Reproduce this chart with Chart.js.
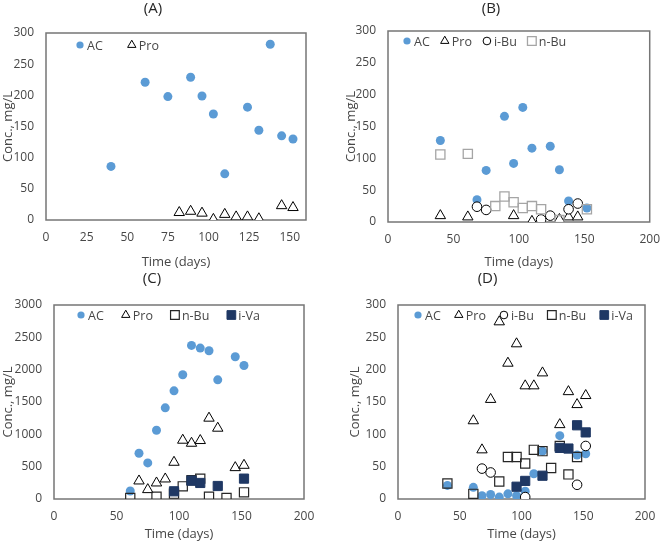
<!DOCTYPE html>
<html>
<head>
<meta charset="utf-8">
<script src="https://cdn.jsdelivr.net/npm/chart.js@4.4.1/dist/chart.umd.min.js"></script>
<style>
  body { margin: 0; background: #fff; overflow: hidden; }
  .panel { position: absolute; }
</style>
</head>
<body>
<div class="panel" style="left:0;top:0;width:330px;height:270px"><canvas id="chartA"></canvas></div>
<div class="panel" style="left:330px;top:0;width:340px;height:270px"><canvas id="chartB"></canvas></div>
<div class="panel" style="left:0;top:270px;width:330px;height:272px"><canvas id="chartC"></canvas></div>
<div class="panel" style="left:330px;top:270px;width:340px;height:272px"><canvas id="chartD"></canvas></div>
<script>
// ===== Data (days, mg/L) =====
// (A)
const aAcDays = [40, 61, 75, 89, 96, 103, 110, 124, 131, 138, 145, 152];
const aAcConc = [86, 221, 198, 229, 199, 170, 74, 181, 144, 282, 135, 130];
const aProDays = [82, 89, 96, 103, 110, 117, 124, 131, 145, 152];
const aProConc = [12, 14, 11, 1, 9, 5, 5, 2, 23, 20];

// (B)
const bAcDays = [40, 68, 75, 89, 96, 103, 110, 124, 131, 138, 152];
const bAcConc = [128, 35, 81, 166, 92, 180, 116, 119, 82, 33, 22];
const bProDays = [40, 61, 96, 110, 131, 138, 145];
const bProConc = [10, 8, 10, 1, 4, 8, 8];
const bIbuDays = [68, 75, 117, 124, 138, 145];
const bIbuConc = [24, 19, 4, 10, 20, 29];
const bNbuDays = [40, 61, 82, 89, 96, 103, 110, 117, 131, 152];
const bNbuConc = [106, 107, 25, 40, 31, 22, 25, 20, 3, 20];

// (C)
const cAcDays = [61, 68, 75, 82, 89, 96, 103, 110, 117, 124, 131, 145, 152];
const cAcConc = [124, 707, 558, 1064, 1410, 1673, 1921, 2375, 2334, 2293, 1843, 2200, 2065];
const cProDays = [68, 75, 82, 89, 96, 103, 110, 117, 124, 131, 145, 152];
const cProConc = [279, 145, 248, 310, 568, 909, 862, 904, 1250, 1095, 485, 521];
const cNbuDays = [61, 82, 96, 103, 110, 117, 124, 138, 152];
const cNbuConc = [15, 36, 83, 196, 289, 315, 36, 15, 103];
const cIvaDays = [96, 110, 117, 131, 152];
const cIvaConc = [119, 284, 248, 201, 315];

// (D)
const dAcDays = [40, 61, 68, 75, 82, 89, 96, 103, 110, 117, 131, 145, 152];
const dAcConc = [21, 18, 5, 7, 3, 8, 5, 12, 39, 74, 98, 68, 70];
const dProDays = [61, 68, 75, 82, 89, 96, 103, 110, 117, 131, 138, 145, 152];
const dProConc = [121, 76, 154, 274, 210, 240, 175, 175, 195, 115, 166, 146, 160];
const dIbuDays = [68, 75, 103, 145, 152];
const dIbuConc = [47, 41, 3, 22, 82];
const dNbuDays = [40, 61, 82, 89, 96, 103, 110, 117, 124, 131, 138, 145];
const dNbuConc = [24, 8, 27, 65, 65, 55, 76, 74, 48, 82, 38, 65];
const dIvaDays = [96, 103, 117, 131, 138, 145, 152];
const dIvaConc = [19, 28, 36, 79, 78, 114, 103];

// ===== Marker styles =====
const FONT = '"Open Sans", sans-serif';
const TXT = '#474747';

const acStyle = { pointStyle: 'circle', pointRadius: 4.5, pointBackgroundColor: '#5B9BD5', pointBorderColor: '#5B9BD5', pointBorderWidth: 0 };
const proStyle = { pointStyle: 'triangle', pointRadius: 6, pointBackgroundColor: '#fff', pointBorderColor: '#000', pointBorderWidth: 1 };
const ibuStyle = { pointStyle: 'circle', pointRadius: 4.8, pointBackgroundColor: '#fff', pointBorderColor: '#000', pointBorderWidth: 1 };
const nbuGrayStyle = { pointStyle: 'rect', pointRadius: 6.5, pointBackgroundColor: 'rgba(255,255,255,0)', pointBorderColor: '#A5A5A5', pointBorderWidth: 1.3 };
const nbuStyle = { pointStyle: 'rect', pointRadius: 6.5, pointBackgroundColor: 'rgba(255,255,255,0)', pointBorderColor: '#262626', pointBorderWidth: 1.2 };
const ivaStyle = { pointStyle: 'rect', pointRadius: 6.5, pointBackgroundColor: '#1F3864', pointBorderColor: '#1F3864', pointBorderWidth: 1 };

function series(label, days, conc, style) {
  return { label, data: days.map((d, i) => ({ x: d, y: conc[i] })), showLine: false, ...style };
}

// ===== Plugins =====
// plot-area frame like the Excel chart
const frame = {
  id: 'frame',
  beforeDatasetsDraw(chart) {
    const { ctx, chartArea: a } = chart;
    ctx.save();
    ctx.strokeStyle = '#767676';
    ctx.lineWidth = 1.5;
    ctx.strokeRect(a.left, a.top, a.right - a.left, a.bottom - a.top);
    ctx.restore();
  }
};

function marker(ctx, style, r, x, y) {
  ctx.beginPath();
  if (style === 'circle') {
    ctx.arc(x, y, r, 0, Math.PI * 2);
  } else if (style === 'triangle') {
    ctx.moveTo(x, y - r);
    ctx.lineTo(x + r * Math.sin(Math.PI * 2 / 3), y - r * Math.cos(Math.PI * 2 / 3));
    ctx.lineTo(x - r * Math.sin(Math.PI * 2 / 3), y - r * Math.cos(Math.PI * 2 / 3));
  } else {
    const s = r * Math.SQRT1_2;
    ctx.rect(x - s, y - s, 2 * s, 2 * s);
  }
  ctx.closePath();
}

// legend drawn inside the plot area, top row
const insideLegend = {
  id: 'insideLegend',
  afterDraw(chart, args, opts) {
    const { ctx, chartArea } = chart;
    let x = chartArea.left + opts.start;
    const y = chartArea.top + opts.top;
    ctx.save();
    ctx.font = '12.5px ' + FONT;
    ctx.textBaseline = 'middle';
    chart.data.datasets.forEach(ds => {
      const r = ds.pointRadius * (ds.pointStyle === 'rect' ? 0.95 : 0.8);
      marker(ctx, ds.pointStyle, r, x, y);
      ctx.fillStyle = ds.pointBackgroundColor;
      ctx.fill();
      if (ds.pointBorderWidth > 0) {
        ctx.lineWidth = ds.pointBorderWidth;
        ctx.strokeStyle = ds.pointBorderColor;
        ctx.stroke();
      }
      ctx.fillStyle = TXT;
      ctx.fillText(ds.label, x + 7, y + 1);
      x += 7 + ctx.measureText(ds.label).width + opts.gap;
    });
    ctx.restore();
  }
};

// ===== Chart builder =====
function makeChart(id, title, datasets, o) {
  const n = datasets.length;
  return new Chart(document.getElementById(id), {
    type: 'scatter',
    data: { datasets: datasets.map((d, i) => ({ ...d, order: n - i })) },
    options: {
      responsive: true,
      maintainAspectRatio: false,
      animation: false,
      layout: { padding: { top: 0, right: o.padRight, bottom: 0, left: 0 } },
      plugins: {
        legend: { display: false },
        tooltip: { enabled: false },
        title: {
          display: true, text: title, color: '#262626',
          font: { family: FONT, size: 15, weight: 'normal' },
          padding: { top: 0, bottom: o.titleGap }
        },
        insideLegend: { start: o.legendStart, top: o.legendTop, gap: o.legendGap }
      },
      scales: {
        x: {
          type: 'linear', min: 0, max: o.xMax,
          ticks: { stepSize: o.xStep, includeBounds: false, padding: 10, maxRotation: 0, color: TXT, font: { family: FONT, size: 12 }, callback: v => String(v) },
          grid: { display: false, drawTicks: false },
          border: { display: false },
          title: { display: true, text: 'Time (days)', color: TXT, padding: 0, font: { family: FONT, size: 13 } },
          afterFit: s => { s.height = o.xHeight; }
        },
        y: {
          min: 0, max: o.yMax,
          ticks: { stepSize: o.yStep, padding: 12, color: TXT, font: { family: FONT, size: 12 }, callback: v => String(v) },
          grid: { display: false, drawTicks: false },
          border: { display: false },
          title: { display: true, text: 'Conc., mg/L', color: TXT, padding: { top: o.yTitlePad, bottom: 0 }, font: { family: FONT, size: 13 } },
          afterFit: s => { s.width = o.yWidth; }
        }
      }
    },
    plugins: [frame, insideLegend]
  });
}

makeChart('chartA', '(A)', [
  series('AC', aAcDays, aAcConc, acStyle),
  series('Pro', aProDays, aProConc, proStyle)
], { padRight: 24, titleGap: 15, xMax: 160, xStep: 25, yMax: 300, yStep: 50, xHeight: 50, yWidth: 46, yTitlePad: 0, legendStart: 34, legendTop: 12, legendGap: 29 });

makeChart('chartB', '(B)', [
  series('AC', bAcDays, bAcConc, acStyle),
  series('Pro', bProDays, bProConc, proStyle),
  series('i-Bu', bIbuDays, bIbuConc, ibuStyle),
  series('n-Bu', bNbuDays, bNbuConc, nbuGrayStyle)
], { padRight: 18, titleGap: 13, xMax: 200, xStep: 50, yMax: 300, yStep: 50, xHeight: 48, yWidth: 58, yTitlePad: 13, legendStart: 19, legendTop: 10, legendGap: 15 });

makeChart('chartC', '(C)', [
  series('AC', cAcDays, cAcConc, acStyle),
  series('Pro', cProDays, cProConc, proStyle),
  series('n-Bu', cNbuDays, cNbuConc, nbuStyle),
  series('i-Va', cIvaDays, cIvaConc, ivaStyle)
], { padRight: 26, titleGap: 17, xMax: 200, xStep: 50, yMax: 3000, yStep: 500, xHeight: 43, yWidth: 54, yTitlePad: 0, legendStart: 27, legendTop: 10, legendGap: 22 });

makeChart('chartD', '(D)', [
  series('AC', dAcDays, dAcConc, acStyle),
  series('Pro', dProDays, dProConc, proStyle),
  series('i-Bu', dIbuDays, dIbuConc, ibuStyle),
  series('n-Bu', dNbuDays, dNbuConc, nbuStyle),
  series('i-Va', dIvaDays, dIvaConc, ivaStyle)
], { padRight: 25, titleGap: 17, xMax: 200, xStep: 50, yMax: 300, yStep: 50, xHeight: 43, yWidth: 68, yTitlePad: 17, legendStart: 20, legendTop: 10, legendGap: 18 });
</script>
</body>
</html>
